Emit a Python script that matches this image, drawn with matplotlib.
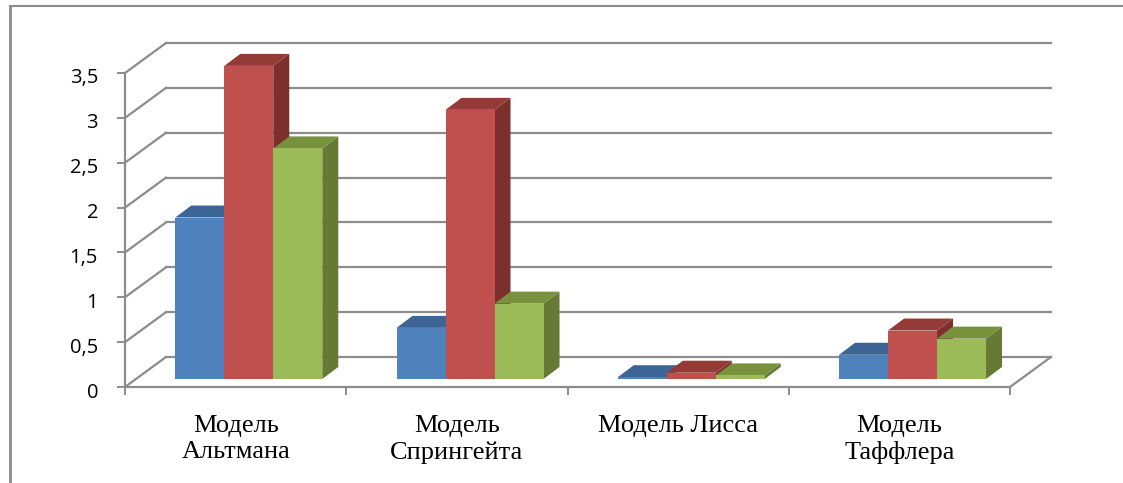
import matplotlib
matplotlib.use("Agg")
import matplotlib.pyplot as plt
from matplotlib.patches import Polygon, Rectangle
from matplotlib.lines import Line2D
from matplotlib.transforms import offset_copy

categories = ["Модель\nАльтмана", "Модель\nСпрингейта", "Модель Лисса", "Модель\nТаффлера"]
series1 = [1.80, 0.57, 0.02, 0.27]   # blue
series2 = [3.49, 3.00, 0.07, 0.54]   # red
series3 = [2.57, 0.84, 0.04, 0.45]   # green
yticks = [0, 0.5, 1, 1.5, 2, 2.5, 3, 3.5]
ytick_labels = ["0", "0,5", "1", "1,5", "2", "2,5", "3", "3,5"]

front_cols = ["#4F81BD", "#C0504D", "#9BBB59"]
top_cols = ["#3C6494", "#943B38", "#77913D"]
side_cols = ["#2F4F78", "#7D2F2D", "#667A34"]
grid_col = "#8C8C8C"

W, H = 1123, 483
fig = plt.figure(figsize=(W / 100, H / 100), dpi=100)

# axes placed so that front plane: x 0..4 -> px 125..1010, y 0 -> px 387, 3.5 -> px 73
px_per_cat = (1010 - 125) / 4.0
px_per_val = (387 - 73) / 3.5
DX = 41 / px_per_cat      # floor depth in category units
DY = 30 / px_per_val      # floor depth in value units
left_px, right_px = 125, 125 + (4 + DX) * px_per_cat
bot_px, top_px = 387, 387 - (3.5 + DY) * px_per_val
ax = fig.add_axes([left_px / W, (H - bot_px) / H, (right_px - left_px) / W, (bot_px - top_px) / H])
ax.set_xlim(0, 4 + DX)
ax.set_ylim(0, 3.5 + DY)
ax.patch.set_visible(False)
for s in ax.spines.values():
    s.set_visible(False)

lw = 1.6
# back wall gridlines and side wall diagonals
for v in yticks:
    ax.add_line(Line2D([DX, 4 + DX], [v + DY, v + DY], color=grid_col, lw=lw, clip_on=False, zorder=1))
    ax.add_line(Line2D([0, DX], [v, v + DY], color=grid_col, lw=lw, clip_on=False, zorder=1))
# floor front edge and right edge
ax.add_line(Line2D([0, 4], [0, 0], color=grid_col, lw=lw, clip_on=False, zorder=1))
ax.add_line(Line2D([4, 4 + DX], [0, DY], color=grid_col, lw=lw, clip_on=False, zorder=1))
# vertical value axis
ax.add_line(Line2D([0, 0], [0, 3.5], color=grid_col, lw=lw, clip_on=False, zorder=1))

# ticks
ax.set_yticks(yticks)
ax.set_yticklabels([""] * len(yticks))
ax.tick_params(axis="y", length=6, width=1.4, color=grid_col, direction="out")
ylab_tr = offset_copy(ax.transData, fig=fig, x=-27, y=-3, units="dots")
for v, lab in zip(yticks, ytick_labels):
    ax.text(0, v, lab, transform=ylab_tr, ha="right", va="center_baseline",
            fontfamily="Open Sans", fontsize=14.5, color="black", clip_on=False)
ax.set_xticks([0, 1, 2, 3, 4])
ax.set_xticklabels([""] * 5)
ax.tick_params(axis="x", which="major", length=6, width=1.4, color=grid_col, direction="out")
ax.set_xticks([i + 0.5 for i in range(4)], minor=True)
ax.set_xticklabels(categories, minor=True, fontfamily="Liberation Serif", fontsize=19, linespacing=1.25)
ax.tick_params(axis="x", which="minor", length=0, pad=20)
ax.yaxis.set_ticks_position("left")
ax.xaxis.set_ticks_position("bottom")

# 3D bars
bw = 49 / px_per_cat
f0 = 8 / 30.0      # depth fraction of bar front plane
bdx, bdy = f0 * DX, f0 * DY
ddx, ddy = 16 / px_per_cat, 12 / px_per_val
data = [series1, series2, series3]
z = 3
for i in range(len(categories)):
    for j in range(3):
        v = data[j][i]
        x0 = i + 0.5 + (j - 1.5) * bw + bdx + 0.01
        y0 = bdy
        y1 = bdy + v
        front = Rectangle((x0, y0), bw, v, facecolor=front_cols[j], edgecolor="none", zorder=z, clip_on=False)
        top = Polygon([(x0, y1), (x0 + bw, y1), (x0 + bw + ddx, y1 + ddy), (x0 + ddx, y1 + ddy)],
                      closed=True, facecolor=top_cols[j], edgecolor="none", zorder=z, clip_on=False)
        side = Polygon([(x0 + bw, y0), (x0 + bw + ddx, y0 + ddy), (x0 + bw + ddx, y1 + ddy), (x0 + bw, y1)],
                       closed=True, facecolor=side_cols[j], edgecolor="none", zorder=z, clip_on=False)
        ax.add_patch(side)
        ax.add_patch(top)
        ax.add_patch(front)
        z += 1

# outer frame lines (left and top)
fig.add_artist(Line2D([9.5 / W, 9.5 / W], [0, 1 - 6 / H], transform=fig.transFigure, color="#8C8C8C", lw=2))
fig.add_artist(Line2D([9.5 / W, 1], [1 - 6 / H, 1 - 6 / H], transform=fig.transFigure, color="#8C8C8C", lw=1.5))

fig.savefig("out.png", dpi=100, facecolor="white")
